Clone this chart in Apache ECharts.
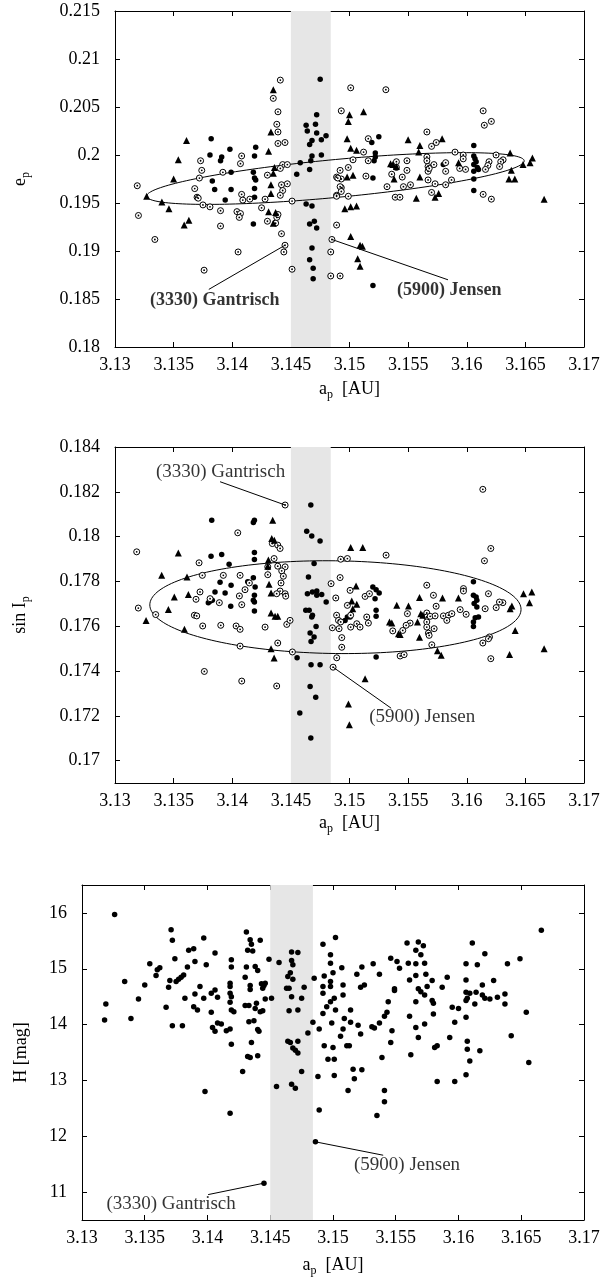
<!DOCTYPE html>
<html>
<head>
<meta charset="utf-8">
<script src="https://cdn.jsdelivr.net/npm/echarts@6/dist/echarts.min.js"></script>
<style>
  html, body { margin: 0; padding: 0; background: #fff; }
  #chart { width: 603px; height: 1283px; }
</style>
</head>
<body>
<div id="chart"></div>
<script>
// ---- data: (a_p, e_p) ----
const eFilled = [[3.1475,0.2079],[3.1472,0.2042],[3.1463,0.2031],[3.1464,0.2025],[3.1471,0.2032],[3.1472,0.2023],[3.1480,0.2020],[3.1468,0.2015],[3.1466,0.2011],[3.1476,0.2016],[3.1476,0.2000],[3.1468,0.1999],[3.1467,0.1994],[3.1458,0.1992],[3.1466,0.1985],[3.1455,0.1980],[3.1382,0.2017],[3.1381,0.2000],[3.1391,0.1998],[3.1390,0.1994],[3.1398,0.2006],[3.1420,0.2008],[3.1419,0.1999],[3.1418,0.1982],[3.1419,0.1976],[3.1420,0.1974],[3.1419,0.1965],[3.1419,0.1956],[3.1383,0.1973],[3.1385,0.1964],[3.1399,0.1982],[3.1399,0.1964],[3.1394,0.1953],[3.1418,0.1928],[3.1463,0.1949],[3.1468,0.1947],[3.1466,0.1928],[3.1470,0.1931],[3.1472,0.1924],[3.1468,0.1903],[3.1466,0.1891],[3.1469,0.1882],[3.1469,0.1871],[3.1525,0.2019],[3.1519,0.2013],[3.1522,0.2002],[3.1522,0.1998],[3.1521,0.1994],[3.1520,0.1976],[3.1580,0.1990],[3.1606,0.2010],[3.1606,0.1999],[3.1607,0.1996],[3.1608,0.1993],[3.1606,0.1990],[3.1609,0.1987],[3.1606,0.1983],[3.1610,0.1985],[3.1606,0.1975],[3.1606,0.1963],[3.1520,0.1864]];
const eOpen = [[3.1319,0.1968],[3.1441,0.2078],[3.1435,0.2059],[3.1439,0.2045],[3.1438,0.2032],[3.1439,0.2024],[3.1439,0.2012],[3.1445,0.2013],[3.1493,0.2046],[3.1408,0.1999],[3.1407,0.1991],[3.1373,0.1994],[3.1374,0.1984],[3.1372,0.1976],[3.1392,0.1982],[3.1368,0.1965],[3.1370,0.1956],[3.1371,0.1955],[3.1443,0.1990],[3.1447,0.1990],[3.1441,0.1986],[3.1430,0.1979],[3.1447,0.1970],[3.1442,0.1969],[3.1443,0.1963],[3.1441,0.1958],[3.1451,0.1952],[3.1408,0.1959],[3.1409,0.1953],[3.1415,0.1954],[3.1489,0.1977],[3.1492,0.1984],[3.1493,0.1975],[3.1493,0.1966],[3.1489,0.1958],[3.1320,0.1937],[3.1334,0.1912],[3.1375,0.1948],[3.1381,0.1946],[3.1390,0.1942],[3.1404,0.1941],[3.1407,0.1939],[3.1406,0.1935],[3.1390,0.1926],[3.1405,0.1899],[3.1376,0.1880],[3.1425,0.1945],[3.1428,0.1954],[3.1430,0.1931],[3.1437,0.1929],[3.1438,0.1935],[3.1439,0.1938],[3.1442,0.1918],[3.1445,0.1906],[3.1444,0.1899],[3.1451,0.1881],[3.1484,0.1899],[3.1485,0.1912],[3.1484,0.1874],[3.1492,0.1874],[3.1489,0.1927],[3.1501,0.2070],[3.1531,0.2068],[3.1614,0.2046],[3.1615,0.2031],[3.1621,0.2035],[3.1566,0.2024],[3.1570,0.2009],[3.1574,0.2013],[3.1516,0.2017],[3.1512,0.2003],[3.1516,0.1994],[3.1503,0.1995],[3.1499,0.1987],[3.1490,0.1976],[3.1492,0.1967],[3.1493,0.1962],[3.1489,0.1957],[3.1514,0.1978],[3.1499,0.1957],[3.1540,0.1993],[3.1549,0.1994],[3.1540,0.1987],[3.1549,0.1984],[3.1536,0.1980],[3.1545,0.1977],[3.1532,0.1967],[3.1546,0.1967],[3.1552,0.1969],[3.1566,0.1998],[3.1566,0.1994],[3.1567,0.1988],[3.1567,0.1983],[3.1572,0.1990],[3.1568,0.1986],[3.1582,0.1992],[3.1582,0.1983],[3.1587,0.1974],[3.1582,0.1969],[3.1567,0.1974],[3.1570,0.1961],[3.1573,0.1970],[3.1597,0.2000],[3.1597,0.1996],[3.1590,0.2003],[3.1594,0.1986],[3.1599,0.1985],[3.1619,0.1993],[3.1618,0.1989],[3.1616,0.1985],[3.1625,0.2000],[3.1631,0.1995],[3.1629,0.1993],[3.1628,0.1988],[3.1614,0.1959],[3.1621,0.1954],[3.1539,0.1956],[3.1543,0.1956]];
const eTri = [[3.1435,0.2068],[3.1361,0.2015],[3.1354,0.1995],[3.1350,0.1975],[3.1433,0.2024],[3.1431,0.2004],[3.1436,0.1987],[3.1435,0.1981],[3.1433,0.1969],[3.1433,0.1960],[3.1327,0.1957],[3.1340,0.1951],[3.1346,0.1944],[3.1363,0.1932],[3.1359,0.1927],[3.1431,0.1941],[3.1437,0.1940],[3.1435,0.1929],[3.1496,0.1944],[3.1500,0.2042],[3.1499,0.2035],[3.1512,0.2045],[3.1498,0.2017],[3.1501,0.2007],[3.1506,0.2005],[3.1550,0.2016],[3.1560,0.2010],[3.1559,0.2003],[3.1579,0.2017],[3.1535,0.1991],[3.1537,0.1990],[3.1540,0.1988],[3.1538,0.1975],[3.1560,0.1977],[3.1593,0.1992],[3.1637,0.2002],[3.1638,0.1984],[3.1656,0.1997],[3.1654,0.1992],[3.1648,0.1990],[3.1636,0.1975],[3.1641,0.1975],[3.1498,0.1977],[3.1503,0.1979],[3.1557,0.1955],[3.1573,0.1956],[3.1576,0.1960],[3.1666,0.1954],[3.1501,0.1946],[3.1506,0.1947],[3.1501,0.1915],[3.1509,0.1906],[3.1511,0.1905],[3.1507,0.1892],[3.1509,0.1884]];

// ---- data: (a_p, sin I_p) ----
const sFilled = [[3.1467,0.18141],[3.13825,0.18073],[3.1418,0.18063],[3.14189,0.18073],[3.14635,0.18024],[3.14678,0.18003],[3.14749,0.1798],[3.13819,0.17912],[3.1391,0.1792],[3.14189,0.17929],[3.14189,0.17898],[3.13973,0.17877],[3.1418,0.17816],[3.14195,0.17775],[3.14132,0.17798],[3.1399,0.17783],[3.13939,0.17748],[3.13896,0.17796],[3.13811,0.17711],[3.13796,0.17705],[3.1383,0.17716],[3.13853,0.17753],[3.14189,0.17738],[3.1418,0.17716],[3.14189,0.17708],[3.14189,0.17668],[3.13987,0.17689],[3.14698,0.1788],[3.1465,0.1782],[3.14641,0.17745],[3.14684,0.17753],[3.14721,0.17757],[3.14763,0.17742],[3.14721,0.17738],[3.14801,0.17708],[3.14627,0.17671],[3.14656,0.17671],[3.14684,0.17649],[3.14678,0.17641],[3.14715,0.17599],[3.14664,0.1757],[3.14698,0.17552],[3.1467,0.17101],[3.14576,0.17213],[3.14712,0.17283],[3.14664,0.17331],[3.14672,0.17428],[3.14749,0.17428],[3.14553,0.17459],[3.14672,0.17532],[3.15199,0.17775],[3.15227,0.17763],[3.15253,0.17748],[3.15218,0.17723],[3.15227,0.17671],[3.15227,0.17644],[3.14982,0.17641],[3.14962,0.17626],[3.15005,0.17641],[3.16057,0.17798],[3.16057,0.17738],[3.1608,0.1773],[3.16086,0.17716],[3.16063,0.17701],[3.16086,0.17686],[3.16072,0.17638],[3.161,0.17641],[3.16057,0.17619],[3.16057,0.17599],[3.15227,0.17462]];
const sOpen = [[3.14451,0.18141],[3.13185,0.17932],[3.14047,0.18017],[3.14342,0.17969],[3.14388,0.17962],[3.14408,0.17947],[3.14357,0.17902],[3.14303,0.17865],[3.14388,0.17868],[3.14451,0.17865],[3.14422,0.17847],[3.14303,0.1783],[3.14436,0.17823],[3.14416,0.17793],[3.14408,0.17757],[3.14451,0.17745],[3.14456,0.17734],[3.14379,0.17745],[3.13717,0.17883],[3.13745,0.17827],[3.13924,0.17827],[3.14067,0.17827],[3.14146,0.17793],[3.14109,0.17763],[3.14061,0.17735],[3.14081,0.17696],[3.13725,0.17753],[3.13691,0.1772],[3.13811,0.17723],[3.1389,0.17705],[3.13347,0.17652],[3.13199,0.17681],[3.13677,0.17649],[3.13697,0.17646],[3.13748,0.17601],[3.13902,0.17604],[3.14033,0.17601],[3.14067,0.17586],[3.1428,0.17596],[3.14465,0.17608],[3.14493,0.17626],[3.14843,0.1779],[3.14883,0.17726],[3.1492,0.17817],[3.14925,0.17899],[3.1489,0.17649],[3.14906,0.17626],[3.14925,0.17619],[3.14854,0.17593],[3.14911,0.17589],[3.14067,0.17511],[3.14388,0.17525],[3.13762,0.17398],[3.14081,0.17355],[3.14379,0.17333],[3.14513,0.17485],[3.14891,0.17459],[3.1486,0.17417],[3.14934,0.17549],[3.14934,0.17506],[3.16137,0.18211],[3.16205,0.17947],[3.16151,0.17892],[3.15312,0.17917],[3.14982,0.17902],[3.15659,0.17783],[3.15716,0.17738],[3.15739,0.17689],[3.15972,0.17768],[3.15972,0.17757],[3.16185,0.17745],[3.16308,0.17705],[3.16279,0.17708],[3.16251,0.17683],[3.16157,0.17678],[3.15995,0.17653],[3.15944,0.17674],[3.15005,0.1776],[3.14982,0.17693],[3.1501,0.17649],[3.1501,0.17596],[3.15133,0.17733],[3.1517,0.17745],[3.15147,0.17641],[3.15161,0.17614],[3.15062,0.17611],[3.1509,0.17596],[3.15494,0.17656],[3.15517,0.17614],[3.15483,0.17604],[3.15454,0.17581],[3.15369,0.17579],[3.15659,0.17659],[3.15659,0.17641],[3.15688,0.17644],[3.1573,0.17646],[3.15801,0.17646],[3.15844,0.17649],[3.15873,0.17656],[3.1583,0.17626],[3.15659,0.17619],[3.15659,0.17596],[3.15673,0.17569],[3.15679,0.17559],[3.15722,0.17589],[3.16194,0.17552],[3.16205,0.17455],[3.16137,0.17525],[3.16185,0.17544],[3.15432,0.17467],[3.15466,0.17473],[3.15702,0.17517]];
const sTri = [[3.14345,0.18073],[3.1354,0.17927],[3.14337,0.17991],[3.14359,0.17984],[3.13398,0.17827],[3.13614,0.1782],[3.13506,0.1773],[3.13626,0.17741],[3.13455,0.17674],[3.13265,0.17626],[3.13592,0.17586],[3.14308,0.17895],[3.14303,0.17868],[3.14314,0.17787],[3.14331,0.17748],[3.14331,0.17659],[3.14365,0.17644],[3.14388,0.17644],[3.14331,0.17499],[3.14357,0.17458],[3.1501,0.17951],[3.15113,0.17951],[3.15056,0.1778],[3.15019,0.17713],[3.15062,0.17698],[3.15028,0.17678],[3.15403,0.17693],[3.15503,0.1769],[3.15597,0.17728],[3.15793,0.17726],[3.15929,0.17726],[3.16484,0.17745],[3.16555,0.17753],[3.16535,0.17705],[3.16385,0.1769],[3.1637,0.17678],[3.16413,0.17581],[3.15608,0.17656],[3.15625,0.17649],[3.1558,0.17619],[3.15341,0.17619],[3.15361,0.17614],[3.15418,0.17566],[3.15432,0.17563],[3.15597,0.17551],[3.15133,0.17365],[3.14991,0.17253],[3.14999,0.1716],[3.1575,0.1749],[3.15782,0.1747],[3.16365,0.17474],[3.1666,0.17499]];

// ---- data: (a_p, H) ----
const hAll = [[3.1326,15.97],[3.1371,15.70],[3.1372,15.51],[3.1397,15.55],[3.1431,15.66],[3.1434,15.52],[3.1435,15.44],[3.1442,15.51],[3.1432,15.33],[3.1436,15.32],[3.1467,15.30],[3.1472,15.29],[3.1492,15.44],[3.1385,15.33],[3.1389,15.36],[3.1374,15.18],[3.1406,15.28],[3.1354,15.09],[3.1360,14.98],[3.1362,15.02],[3.1390,15.13],[3.1384,15.03],[3.1399,15.07],[3.1419,15.16],[3.1419,15.03],[3.1449,15.17],[3.1457,15.11],[3.1467,15.15],[3.1468,15.07],[3.1466,14.93],[3.1431,15.03],[3.1438,15.04],[3.1440,14.97],[3.1359,14.88],[3.1381,14.89],[3.1379,14.85],[3.1377,14.81],[3.1375,14.77],[3.1370,14.79],[3.1369,14.67],[3.1334,14.77],[3.1350,14.71],[3.1394,14.68],[3.1390,14.55],[3.1397,14.47],[3.1382,14.47],[3.1403,14.56],[3.1406,14.62],[3.1408,14.49],[3.1418,14.74],[3.1418,14.68],[3.1418,14.56],[3.1419,14.50],[3.1430,14.85],[3.1434,14.70],[3.1434,14.63],[3.1443,14.73],[3.1445,14.70],[3.1446,14.74],[3.1444,14.65],[3.1463,14.65],[3.1465,14.65],[3.1467,14.50],[3.1475,14.47],[3.1477,14.67],[3.1464,14.86],[3.1468,14.81],[3.1485,14.83],[3.1493,14.87],[3.1492,14.68],[3.1492,14.56],[3.1451,14.47],[3.1446,14.46],[3.1345,14.46],[3.1319,14.37],[3.1318,14.08],[3.1339,14.11],[3.1367,14.31],[3.1389,14.32],[3.1392,14.26],[3.1403,14.22],[3.1418,14.40],[3.1419,14.26],[3.1421,14.23],[3.1430,14.34],[3.1433,14.34],[3.1438,14.29],[3.1439,14.38],[3.1442,14.23],[3.1444,14.25],[3.1465,14.25],[3.1472,14.26],[3.1372,13.98],[3.1380,13.98],[3.1433,14.05],[3.1437,14.07],[3.1404,13.95],[3.1406,13.88],[3.1408,14.03],[3.1411,14.01],[3.1415,13.89],[3.1418,13.92],[3.1440,13.91],[3.1441,13.88],[3.1484,14.04],[3.1480,13.85],[3.1489,13.92],[3.1492,14.20],[3.1464,13.70],[3.1466,13.68],[3.1472,13.70],[3.1468,13.58],[3.1470,13.54],[3.1472,13.49],[3.1419,13.65],[3.1435,13.68],[3.1432,13.43],[3.1434,13.41],[3.1440,13.44],[3.1428,13.16],[3.1493,13.62],[3.1496,13.38],[3.1488,13.07],[3.1475,13.16],[3.1495,14.32],[3.1501,14.47],[3.1508,13.92],[3.1509,14.11],[3.1455,12.89],[3.1467,12.93],[3.1470,12.86],[3.1489,12.47],[3.1398,12.80],[3.1418,12.41],[3.1486,11.90],[3.1445,11.16],[3.1502,15.56],[3.1498,15.25],[3.1498,15.10],[3.1500,14.93],[3.1498,14.77],[3.1498,14.68],[3.1508,14.71],[3.1507,15.02],[3.1508,14.53],[3.1498,14.41],[3.1519,14.90],[3.1523,15.03],[3.1522,14.67],[3.1525,14.71],[3.1532,15.09],[3.1537,14.90],[3.1546,15.19],[3.1551,15.13],[3.1553,15.01],[3.1559,15.46],[3.1568,15.48],[3.1572,15.41],[3.1566,15.33],[3.1570,15.25],[3.1560,15.10],[3.1566,15.09],[3.1573,15.10],[3.1561,14.80],[3.1566,14.88],[3.1574,14.90],[3.1579,14.79],[3.1549,14.64],[3.1549,14.61],[3.1568,14.64],[3.1570,14.59],[3.1573,14.53],[3.1575,14.68],[3.1587,14.67],[3.1591,14.85],[3.1566,14.41],[3.1579,14.43],[3.1580,14.38],[3.1580,14.19],[3.1573,14.01],[3.1566,13.95],[3.1568,13.77],[3.1561,14.15],[3.1544,14.41],[3.1543,14.22],[3.1541,14.15],[3.1537,14.03],[3.1531,13.96],[3.1533,13.94],[3.1547,13.89],[3.1546,13.68],[3.1539,13.41],[3.1562,13.46],[3.1514,14.26],[3.1514,14.04],[3.1520,13.99],[3.1522,13.83],[3.1506,13.79],[3.1499,14.03],[3.1502,14.26],[3.1511,13.62],[3.1513,13.62],[3.1501,13.38],[3.1500,13.59],[3.1516,13.20],[3.1523,13.19],[3.1517,13.03],[3.1583,13.62],[3.1581,13.59],[3.1593,13.77],[3.1595,14.31],[3.1600,14.29],[3.1597,14.04],[3.1606,15.09],[3.1611,15.46],[3.1615,15.07],[3.1621,15.27],[3.1606,14.80],[3.1606,14.58],[3.1609,14.56],[3.1614,14.58],[3.1619,14.71],[3.1628,14.79],[3.1606,14.43],[3.1607,14.47],[3.1613,14.37],[3.1619,14.53],[3.1621,14.47],[3.1625,14.46],[3.1631,14.49],[3.1637,14.55],[3.1637,14.37],[3.1639,15.09],[3.1649,15.18],[3.1606,14.13],[3.1607,13.70],[3.1607,13.56],[3.1609,13.35],[3.1617,13.53],[3.1606,13.10],[3.1642,13.80],[3.1654,14.22],[3.1656,13.32],[3.1666,15.69],[3.1501,13.09],[3.1512,12.82],[3.1541,12.82],[3.1541,12.62],[3.1535,12.37],[3.1583,12.98],[3.1597,12.98]];

// tick labels
const eTicks = [0.18, 0.185, 0.19, 0.195, 0.2, 0.205, 0.21, 0.215];
const sTicks = [0.17, 0.172, 0.174, 0.176, 0.178, 0.18, 0.182, 0.184];
const hTicks = [11, 12, 13, 14, 15, 16];

// resonance band in a_p
const band = [3.145, 3.1484];

// fitted ellipses: centre, conjugate half-axes (data units)
const ellE = { c: [3.1488, 0.19755], u: [0.0161, 0.00183], v: [0, 0.00198] };
const ellS = { c: [3.1488, 0.17685], u: [0.01583, -0.0001], v: [0, 0.00207] };

// labelled asteroids: point, end of leader line, text centre
const notesE = [
  { t: '(3330) Gantrisch', p: [3.1445, 0.1906], q: [3.1380, 0.1860], c: [3.1385, 0.1849] },
  { t: '(5900) Jensen', p: [3.1485, 0.1912], q: [3.1584, 0.1870], c: [3.1585, 0.18587] }
];
const notesS = [
  { t: '(3330) Gantrisch', p: [3.14451, 0.18141], q: [3.13896, 0.18245], c: [3.1390, 0.1829] },
  { t: '(5900) Jensen', p: [3.1486, 0.17417], q: [3.15355, 0.17234], c: [3.1562, 0.17194] }
];
const notesH = [
  { t: '(3330) Gantrisch', p: [3.1445, 11.16], q: [3.14005, 10.955], c: [3.1371, 10.78] },
  { t: '(5900) Jensen', p: [3.1486, 11.90], q: [3.1540, 11.66], c: [3.1559, 11.48] }
];

const FONT = 'Liberation Serif';
const chart = echarts.init(document.getElementById('chart'));

const rich = {
  n: { fontFamily: FONT, fontSize: 18, color: '#000', verticalAlign: 'top', lineHeight: 20 },
  s: { fontFamily: FONT, fontSize: 12, color: '#000', verticalAlign: 'top', lineHeight: 13, padding: [9, 0, 0, 0] }
};

function xAxis(grid, pos, name, nameGap) {
  const main = pos === 'bottom';
  return {
    type: 'value', gridIndex: grid, position: pos,
    min: 3.13, max: 3.17, interval: 0.005,
    name: main ? name : '', nameLocation: 'middle', nameGap: nameGap,
    nameTextStyle: { rich: rich },
    axisLine: { show: true, onZero: false, lineStyle: { color: '#000', width: 1 } },
    axisTick: { show: true, inside: true, length: 5, lineStyle: { color: '#000' } },
    axisLabel: { show: main, color: '#000', fontFamily: FONT, fontSize: 18, margin: 9 },
    splitLine: { show: false }
  };
}

function yAxis(grid, pos, min, max, ticks, name, nameGap) {
  const main = pos === 'left';
  return {
    type: 'value', gridIndex: grid, position: pos, min: min, max: max,
    name: main ? name : '', nameLocation: 'middle', nameGap: nameGap,
    nameTextStyle: { rich: rich },
    axisLine: { show: true, onZero: false, lineStyle: { color: '#000', width: 1 } },
    axisTick: { show: true, inside: true, length: 5, customValues: ticks, lineStyle: { color: '#000' } },
    axisLabel: { show: main, color: '#000', fontFamily: FONT, fontSize: 18, margin: 15, customValues: ticks },
    splitLine: { show: false }
  };
}

function bandSeries(i) {
  return {
    type: 'scatter', xAxisIndex: 2 * i, yAxisIndex: 2 * i, data: [], z: 1, silent: true,
    markArea: {
      silent: true, itemStyle: { color: '#e6e6e6' },
      data: [[{ xAxis: band[0] }, { xAxis: band[1] }]]
    }
  };
}

function ellipseSeries(i, ell) {
  return {
    type: 'custom', xAxisIndex: 2 * i, yAxisIndex: 2 * i, z: 3, silent: true,
    data: [ell.c],
    renderItem: function (params, api) {
      const pts = [];
      for (let k = 0; k <= 180; k++) {
        const t = k / 180 * Math.PI * 2;
        pts.push(api.coord([
          ell.c[0] + ell.u[0] * Math.cos(t) + ell.v[0] * Math.sin(t),
          ell.c[1] + ell.u[1] * Math.cos(t) + ell.v[1] * Math.sin(t)
        ]));
      }
      return { type: 'polyline', shape: { points: pts }, style: { stroke: '#000', lineWidth: 1, fill: null } };
    }
  };
}

function dots(i, data, symbol, size, z) {
  return {
    type: 'scatter', xAxisIndex: 2 * i, yAxisIndex: 2 * i, data: data, silent: true, z: z || 4,
    symbol: symbol, symbolSize: size, itemStyle: { color: '#000', opacity: 1 }
  };
}

function rings(i, data) {
  return [
    {
      type: 'scatter', xAxisIndex: 2 * i, yAxisIndex: 2 * i, data: data, silent: true, z: 4,
      symbol: 'circle', symbolSize: 6,
      itemStyle: { color: '#fff', borderColor: '#000', borderWidth: 1, opacity: 1 }
    },
    dots(i, data, 'circle', 1.8, 5)
  ];
}

function notes(i, list, bold) {
  return {
    type: 'scatter', xAxisIndex: 2 * i, yAxisIndex: 2 * i, silent: true, z: 6,
    symbol: 'circle', symbolSize: 1, itemStyle: { color: 'rgba(0,0,0,0)' },
    data: list.map(n => ({ value: n.c, name: n.t })),
    label: {
      show: true, position: 'inside', formatter: '{b}', color: '#000',
      fontFamily: FONT, fontSize: bold ? 18 : 19, fontWeight: bold ? 'bold' : 'normal'
    },
    markLine: {
      silent: true, symbol: ['none', 'none'], animation: false,
      lineStyle: { color: '#000', width: 1, type: 'solid' }, label: { show: false },
      data: list.map(n => [{ coord: n.p }, { coord: n.q }])
    }
  };
}

const apName = '{n|a}{s|p}{n|  [AU]}';

const option = {
  animation: false,
  backgroundColor: '#fff',
  grid: [
    { left: 115, top: 11, width: 469, height: 336 },
    { left: 115, top: 447, width: 469, height: 336 },
    { left: 82, top: 885, width: 502, height: 335 }
  ],
  xAxis: [
    xAxis(0, 'bottom', apName, 33), xAxis(0, 'top'),
    xAxis(1, 'bottom', apName, 31), xAxis(1, 'top'),
    xAxis(2, 'bottom', apName, 36), xAxis(2, 'top')
  ],
  yAxis: [
    yAxis(0, 'left', 0.18, 0.215, eTicks, '{n|e}{s|p}', 84), yAxis(0, 'right', 0.18, 0.215, eTicks),
    yAxis(1, 'left', 0.169, 0.184, sTicks, '{n|sin I}{s|p}', 84), yAxis(1, 'right', 0.169, 0.184, sTicks),
    yAxis(2, 'left', 10.5, 16.5, hTicks, '{n|H [mag]}', 50), yAxis(2, 'right', 10.5, 16.5, hTicks)
  ],
  series: [
    bandSeries(0), ellipseSeries(0, ellE),
    dots(0, eFilled, 'circle', 5.5), ...rings(0, eOpen), dots(0, eTri, 'triangle', 7),
    notes(0, notesE, true),

    bandSeries(1), ellipseSeries(1, ellS),
    dots(1, sFilled, 'circle', 5.5), ...rings(1, sOpen), dots(1, sTri, 'triangle', 7),
    notes(1, notesS, false),

    bandSeries(2),
    dots(2, hAll, 'circle', 5.5),
    notes(2, notesH, false)
  ]
};

chart.setOption(option);
</script>
</body>
</html>
